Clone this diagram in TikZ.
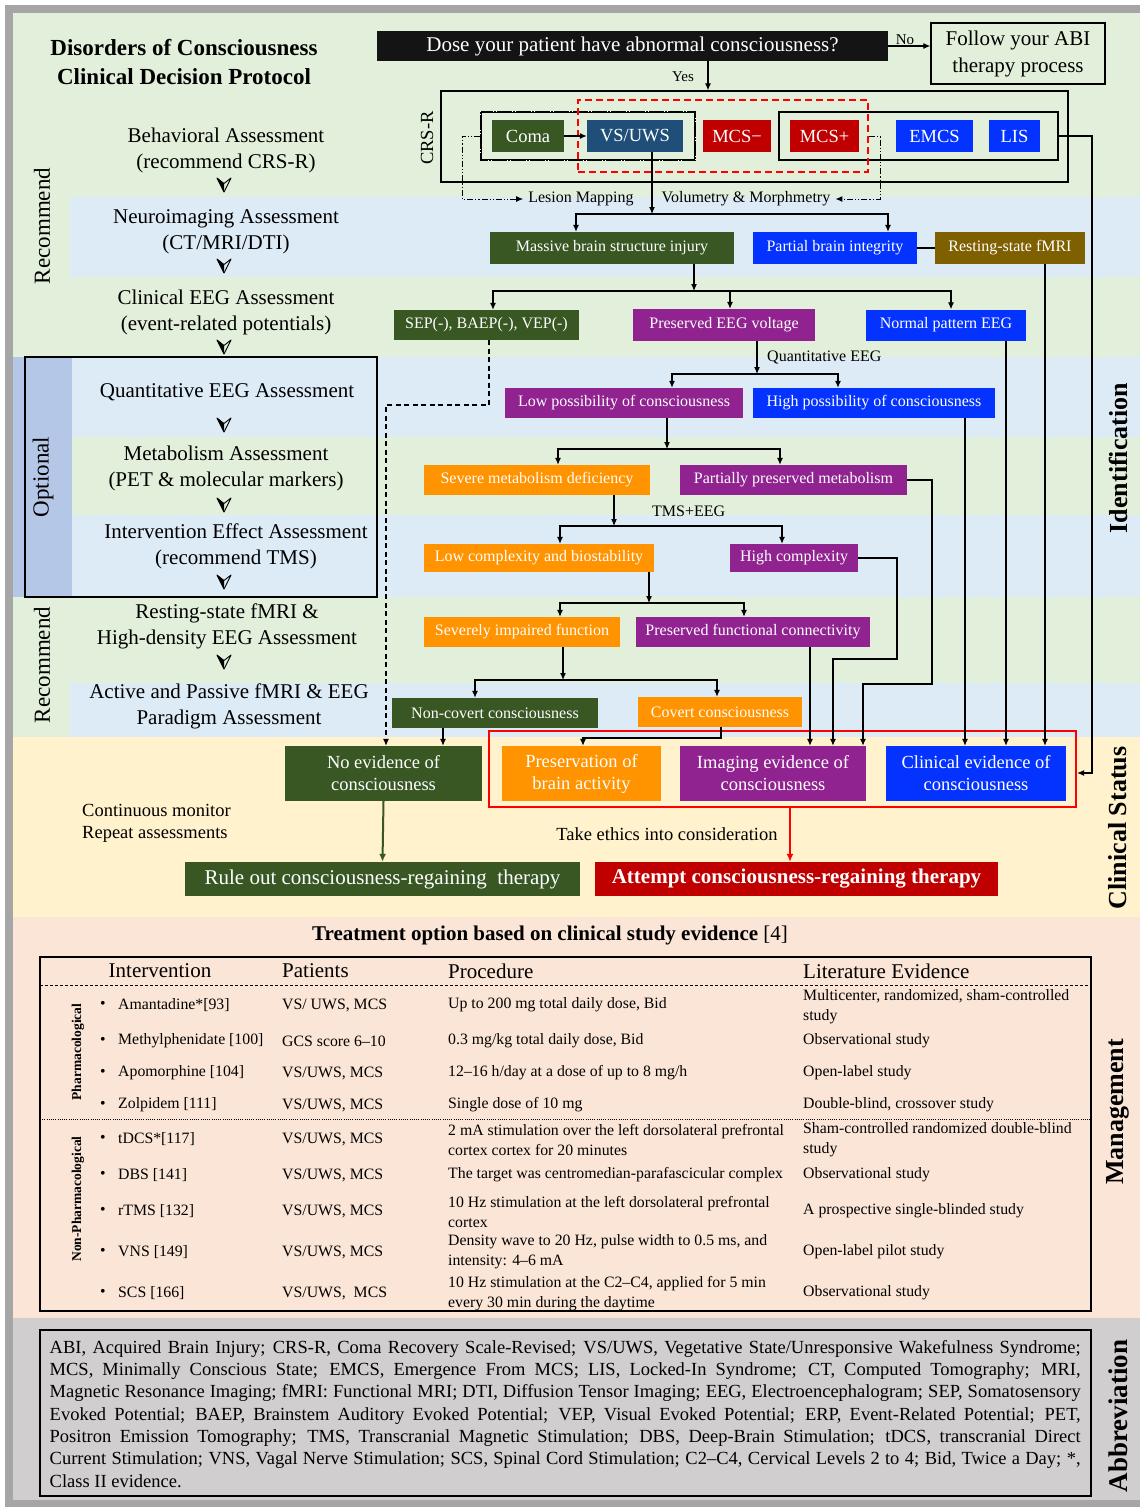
\documentclass[tikz,border=0pt]{standalone}
\usepackage{fontspec}
\setmainfont{Liberation Serif}
\usetikzlibrary{arrows.meta}
\definecolor{bgG}{HTML}{E2EFDA}
\definecolor{bgB}{HTML}{DDEBF7}
\definecolor{bgO}{HTML}{B4C7E7}
\definecolor{bgY}{HTML}{FFF2CC}
\definecolor{bgP}{HTML}{FBE5D6}
\definecolor{bgA}{HTML}{D0CECE}
\definecolor{frameG}{HTML}{A6A6A6}
\definecolor{cG}{HTML}{385723}
\definecolor{cNavy}{HTML}{1F4E79}
\definecolor{cR}{HTML}{C00000}
\definecolor{cB}{HTML}{0433FF}
\definecolor{cP}{HTML}{912391}
\definecolor{cO}{HTML}{FF9300}
\definecolor{cBr}{HTML}{7F6000}
\definecolor{cK}{HTML}{141414}
\begin{document}
\begin{tikzpicture}[x=1pt,y=-1pt,
  fs/.style 2 args={font=\fontsize{#1}{#2}\selectfont},
  box/.style={rectangle, inner sep=0pt, text=white, align=center},
  lbl/.style={inner sep=0pt, align=center},
  arr/.style={-{Latex[length=7pt,width=6pt]}, line width=1.1pt},
  ln/.style={line width=1.1pt},
  ddot/.style={line width=1pt, dash pattern=on 6pt off 2pt on 1.2pt off 2pt on 1.2pt off 2pt},
  side/.style={rotate=90, inner sep=0pt, font=\fontsize{26}{30}\selectfont\bfseries},
  sideL/.style={rotate=90, inner sep=0pt, font=\fontsize{23}{28}\selectfont},
  asm/.style={inner sep=0pt, align=center, font=\fontsize{21}{26}\selectfont},
  tx/.style={inner sep=0pt, anchor=west, align=left, font=\fontsize{15.8}{20}\selectfont},
  th/.style={inner sep=0pt, anchor=west, font=\fontsize{21}{25}\selectfont},
  vdown/.pic={\fill[black] (-7,-7) -- (0,7) -- (0,-1.5) -- cycle;
              \draw[line width=0.9pt, line join=round] (-7,-7) -- (0,7) -- (7,-7) -- (0,-1.5) -- cycle;}
]
\useasboundingbox (0,0) rectangle (1140,1507);
% ---------- backgrounds
\fill[white] (0,0) rectangle (1140,1507);
\fill[frameG] (5,5) rectangle (1140,1507);
\fill[bgG] (13,13) rectangle (1140,737);
\fill[bgB] (70,197) rectangle (1140,277);
\fill[bgB] (72,357) rectangle (1140,437);
\fill[bgB] (72,515) rectangle (1140,597);
\fill[bgB] (70,683) rectangle (1140,737);
\fill[bgO] (13,357) rectangle (72,597);
\fill[bgY] (13,737) rectangle (1140,917);
\fill[bgP] (13,917) rectangle (1140,1318);
\fill[bgA] (13,1318) rectangle (1140,1500);
\draw[line width=1.2pt] (25,357) rectangle (377,597);

% ---------- side labels
\node[sideL] (recA) at (42,226) {Recommend};
\node[sideL] (opt) at (43,477) {Optional};
\node[sideL] (recB) at (42,665) {Recommend};
\node[side] (sIdent) at (1118,458) {Identification};
\node[side] (sClin) at (1118,828) {Clinical Status};
\node[side] (sMan) at (1118,1112) {Management};
\node[side, font=\fontsize{27}{30}\selectfont\bfseries] (sAbb) at (1118,1416) {Abbreviation};

% ---------- title and left column
\node[lbl, font=\fontsize{23}{29}\selectfont\bfseries] (title) at (184,62) {Disorders of Consciousness\\Clinical Decision Protocol};
\node[asm] (a1) at (226,150) {Behavioral Assessment\\(recommend CRS-R)};
\node[asm] (a2) at (226,232) {Neuroimaging Assessment\\(CT/MRI/DTI)};
\node[asm] (a3) at (226,312) {Clinical EEG Assessment\\(event-related potentials)};
\node[asm] (a4) at (227,392) {Quantitative EEG Assessment};
\node[asm] (a5) at (226,468) {Metabolism Assessment\\(PET \& molecular markers)};
\node[asm] (a6) at (236,546) {Intervention Effect Assessment\\(recommend TMS)};
\node[asm] (a7) at (227,626) {Resting-state fMRI \&\\High-density EEG Assessment};
\node[asm] (a8) at (229,706) {Active and Passive fMRI \& EEG\\Paradigm Assessment};
\pic (v1) at (224,185) {vdown};
\pic (v2) at (224,266) {vdown};
\pic (v3) at (224,347) {vdown};
\pic (v4) at (224,425) {vdown};
\pic (v5) at (224,505) {vdown};
\pic (v6) at (224,582) {vdown};
\pic (v7) at (224,662) {vdown};

% ---------- top question
\node[box, fill=cK, minimum width=511, minimum height=30, fs={21}{25}] (q) at (632.5,46) {Dose your patient have abnormal consciousness?};
\node[lbl, draw, line width=1.2pt, minimum width=174, minimum height=61, fs={21}{27}] (follow) at (1018,53.5) {Follow your ABI\\therapy process};
\node[lbl, fs={15}{18}] (no) at (905,40) {No};
\node[lbl, fs={15}{18}] (yes) at (683,77) {Yes};

% ---------- CRS-R block
\node[draw, line width=1.3pt, inner sep=0pt, minimum width=627, minimum height=91] (crs) at (754.5,136.5) {};
\node[sideL, fs={18.5}{22}] (crslbl) at (427,138) {CRS-R};
\node[draw, line width=1.4pt, inner sep=0pt, minimum width=214, minimum height=48] (inner1) at (588,136) {};
\draw[white, line width=1.4pt, dash pattern=on 1pt off 2pt on 1pt off 15pt] (inner1.north west) rectangle (inner1.south east);
\node[draw, line width=1.3pt, inner sep=0pt, minimum width=279, minimum height=48] (inner2) at (918.5,136) {};
\node[box, fill=cG, minimum width=72, minimum height=32, fs={18.5}{22}] (coma) at (528,136) {Coma};
\node[box, fill=cNavy, minimum width=96, minimum height=32, fs={18.5}{22}] (vs) at (635,136) {VS/UWS};
\node[box, fill=cR, minimum width=68, minimum height=32, fs={18.5}{22}] (mcsm) at (737,136) {MCS−};
\node[box, fill=cR, minimum width=69, minimum height=32, fs={18.5}{22}] (mcsp) at (824.5,136) {MCS+};
\node[box, fill=cB, minimum width=77, minimum height=32, fs={18.5}{22}] (emcs) at (934.5,136) {EMCS};
\node[box, fill=cB, minimum width=51, minimum height=32, fs={18.5}{22}] (lis) at (1014.5,136) {LIS};
\node[draw=red, line width=2.5pt, dash pattern=on 7pt off 4pt, inner sep=0pt, minimum width=290, minimum height=72] (reddash) at (723,136) {};
\node[lbl, inner xsep=5pt, fs={16}{19}] (lesion) at (581,199) {Lesion Mapping};
\node[lbl, inner xsep=5pt, fs={16}{19}] (vol) at (746,199) {Volumetry \& Morphmetry};

% ---------- flow boxes
\node[box, fill=cG, minimum width=244, minimum height=32, fs={16}{19}] (massive) at (612,248) {Massive brain structure injury};
\node[box, fill=cB, minimum width=164, minimum height=32, fs={16}{19}] (partial) at (835,248) {Partial brain integrity};
\node[box, fill=cBr, minimum width=150, minimum height=32, fs={16}{19}] (resting) at (1010,248) {Resting-state fMRI};
\node[box, fill=cG, minimum width=185, minimum height=30, fs={16}{19}] (sep) at (486.5,325) {SEP(-), BAEP(-), VEP(-)};
\node[box, fill=cP, minimum width=182, minimum height=32, fs={16}{19}] (peeg) at (724,325) {Preserved EEG voltage};
\node[box, fill=cB, minimum width=160, minimum height=31, fs={16}{19}] (normal) at (946,325) {Normal pattern EEG};
\node[lbl, anchor=west, fs={16}{19}] (qeeg) at (767,357) {Quantitative EEG};
\node[box, fill=cP, minimum width=238, minimum height=30, fs={16}{19}] (low) at (624,403) {Low possibility of consciousness};
\node[box, fill=cB, minimum width=242, minimum height=30, fs={16}{19}] (high) at (874,403) {High possibility of consciousness};
\node[box, fill=cO, minimum width=226, minimum height=30, fs={16}{19}] (severe) at (537,480) {Severe metabolism deficiency};
\node[box, fill=cP, minimum width=227, minimum height=30, fs={16}{19}] (partmet) at (793.5,480) {Partially preserved metabolism};
\node[lbl, anchor=west, fs={16}{19}] (tmseeg) at (652,511) {TMS+EEG};
\node[box, fill=cO, minimum width=230, minimum height=28, fs={16}{19}] (lowcx) at (539,558) {Low complexity and biostability};
\node[box, fill=cP, minimum width=128, minimum height=28, fs={16}{19}] (highcx) at (794,558) {High complexity};
\node[box, fill=cO, minimum width=196, minimum height=30, fs={16}{19}] (sevimp) at (522,632) {Severely impaired function};
\node[box, fill=cP, minimum width=234, minimum height=30, fs={16}{19}] (pfc) at (753,632) {Preserved functional connectivity};
\node[box, fill=cG, minimum width=206, minimum height=30, fs={16}{19}] (noncov) at (495,713) {Non-covert consciousness};
\node[box, fill=cO, minimum width=164, minimum height=30, fs={16}{19}] (covert) at (720,712) {Covert consciousness};

% ---------- clinical status
\node[draw=red, line width=2.2pt, inner sep=0pt, minimum width=587, minimum height=76] (redfr) at (782.5,769) {};
\node[box, fill=cG, minimum width=197, minimum height=55, fs={18.5}{22}] (noev) at (383.5,773.5) {No evidence of\\consciousness};
\node[box, fill=cO, minimum width=159, minimum height=55, fs={18.5}{22}] (pres) at (581.5,773.5) {Preservation of\\brain activity};
\node[box, fill=cP, minimum width=186, minimum height=55, fs={18.5}{22}] (imgev) at (773,773.5) {Imaging evidence of\\consciousness};
\node[box, fill=cB, minimum width=180, minimum height=55, fs={18.5}{22}] (clinev) at (976,773.5) {Clinical evidence of\\consciousness};
\node[lbl, anchor=west, align=left, fs={18.5}{22}] (cont) at (82,823) {Continuous monitor\\Repeat assessments};
\node[lbl, fs={18.5}{22}] (ethics) at (667,834) {Take ethics into consideration};
\node[box, fill=cG, minimum width=395, minimum height=34, fs={21}{25}] (ruleout) at (382.5,879) {Rule out consciousness-regaining\ \ therapy};
\node[box, fill=cR, minimum width=403, minimum height=34, font=\fontsize{21}{25}\selectfont\bfseries] (attempt) at (796.5,879) {Attempt consciousness-regaining therapy};

% ---------- helper coordinates
\coordinate (k708) at (708,0);
\coordinate (jVS) at (652,214);
\coordinate (k576) at (576,0);
\coordinate (k888) at (888,0);
\coordinate (jM) at (694,291);
\coordinate (k493) at (493,0);
\coordinate (k730) at (730,0);
\coordinate (k951) at (951,0);
\coordinate (k489) at (489,0);
\coordinate (bS) at (386,405);
\coordinate (jP) at (757,374);
\coordinate (k672) at (672,0);
\coordinate (k838) at (838,0);
\coordinate (jL) at (667,449);
\coordinate (k558) at (558,0);
\coordinate (k780) at (780,0);
\coordinate (jS) at (614,526);
\coordinate (k560) at (560,0);
\coordinate (k782) at (782,0);
\coordinate (jC) at (649,603);
\coordinate (k744) at (744,0);
\coordinate (jF) at (563,680);
\coordinate (k475) at (475,0);
\coordinate (k717) at (717,0);
\coordinate (k443) at (443,0);
\coordinate (bC) at (721,738);
\coordinate (k583) at (583,0);
\coordinate (k810) at (810,0);
\coordinate (k833) at (833,0);
\coordinate (k863) at (863,0);
\coordinate (k965) at (965,0);
\coordinate (k1006) at (1006,0);
\coordinate (k1045) at (1045,0);
\coordinate (k790) at (790,0);
\coordinate (bL) at (1092,773);
\coordinate (bLe) at (462,0);
\coordinate (bV) at (880,0);

% ---------- connectors
\draw[arr] (q.east) -- (q.east -| follow.west);
\draw[arr] (q.south -| k708) -- (crs.north -| k708);
\draw[arr] (coma.east) -- (vs.west);
\draw[ddot, -{Latex[length=7pt,width=6pt]}] (inner1.west) -- (inner1.west -| bLe) |- (lesion.west);
\draw[ddot, -{Latex[length=7pt,width=6pt]}] (reddash.east) -- (reddash.east -| bV) |- (vol.east);
\draw[arr] (vs.south -| jVS) -- (jVS);
\draw[arr] (jVS) -| (massive.north -| k576);
\draw[arr] (jVS) -| (partial.north -| k888);
\draw[ln] (partial.east) -- (resting.west);
\draw[arr] (inner2.east) -| (bL) -- (redfr.east |- bL);
\draw[arr] (resting.south -| k1045) -- (clinev.north -| k1045);
\draw[arr] (massive.south -| jM) -- (jM);
\draw[arr] (jM) -| (sep.north -| k493);
\draw[arr] (jM) -| (peeg.north -| k730);
\draw[arr] (jM) -| (normal.north -| k951);
\draw[-{Latex[length=7pt,width=6pt]}, line width=1.1pt, dash pattern=on 5pt off 3.5pt] (sep.south -| k489) |- (bS) -- (noev.north -| bS);
\draw[arr] (normal.south -| k1006) -- (clinev.north -| k1006);
\draw[arr] (peeg.south -| jP) -- (jP);
\draw[arr] (jP) -| (low.north -| k672);
\draw[arr] (jP) -| (high.north -| k838);
\draw[arr] (high.south -| k965) -- (clinev.north -| k965);
\draw[arr] (low.south -| jL) -- (jL);
\draw[arr] (jL) -| (severe.north -| k558);
\draw[arr] (jL) -| (partmet.north -| k780);
\draw[arr] (partmet.east) -| (932,684) -| (imgev.north -| k863);
\draw[arr] (severe.south -| jS) -- (jS);
\draw[arr] (jS) -| (lowcx.north -| k560);
\draw[arr] (jS) -| (highcx.north -| k782);
\draw[arr] (highcx.east) -| (897,659) -| (imgev.north -| k833);
\draw[arr] (lowcx.south -| jC) -- (jC);
\draw[arr] (jC) -| (sevimp.north -| k560);
\draw[arr] (jC) -| (pfc.north -| k744);
\draw[arr] (pfc.south -| k810) -- (imgev.north -| k810);
\draw[arr] (sevimp.south -| jF) -- (jF);
\draw[arr] (jF) -| (noncov.north -| k475);
\draw[arr] (jF) -| (covert.north -| k717);
\draw[arr] (noncov.south -| k443) -- (noev.north -| k443);
\draw[arr] (covert.south -| bC) -- (bC) -| (pres.north -| k583);
\draw[-{Latex[length=8pt,width=7pt]}, draw=cG, fill=cG, line width=2pt] (noev.south) -- (ruleout.north);
\draw[-{Latex[length=8pt,width=7pt]}, draw=red, fill=red, line width=2pt] (redfr.south -| k790) -- (attempt.north -| k790);

% ---------- management table
\node[lbl, fs={21}{25}] (ttitle) at (550,935) {{\bfseries Treatment option based on clinical study evidence} [4]};
\draw[line width=1.3pt] (40,957) rectangle (1091,1311);
\draw[line width=0.9pt, dash pattern=on 3pt off 2pt] (40,985) -- (1091,985);
\draw[line width=0.9pt, dash pattern=on 1pt off 1.2pt] (40,1119) -- (1091,1119);
\node[th, anchor=center] (hI) at (160,971) {Intervention};
\node[th] (hP) at (282,971) {Patients};
\node[th] (hR) at (448,971) {Procedure};
\node[th] (hL) at (803,971) {Literature Evidence};
\node[rotate=90, inner sep=0pt, font=\fontsize{13.5}{16}\selectfont\bfseries] (ph) at (78,1052) {Pharmacological};
\node[rotate=90, inner sep=0pt, font=\fontsize{13.5}{16}\selectfont\bfseries] (nph) at (78,1199) {Non-Pharmacological};

\node[tx, anchor=center] (b1) at (103,1005) {\textbullet};
\node[tx] (i1) at (118,1005) {Amantadine*[93]};
\node[tx] (pa1) at (282,1005) {VS/ UWS, MCS};
\node[tx] (pr1) at (448,1005) {Up to 200 mg total daily dose, Bid};
\node[tx] (l1) at (803,1007) {Multicenter, randomized, sham-controlled\\study};

\node[tx, anchor=center] (b2) at (103,1041) {\textbullet};
\node[tx] (i2) at (118,1041) {Methylphenidate [100]};
\node[tx] (pa2) at (282,1041) {GCS score 6–10};
\node[tx] (pr2) at (448,1041) {0.3 mg/kg total daily dose, Bid};
\node[tx] (l2) at (803,1041) {Observational study};

\node[tx, anchor=center] (b3) at (103,1073) {\textbullet};
\node[tx] (i3) at (118,1073) {Apomorphine [104]};
\node[tx] (pa3) at (282,1073) {VS/UWS, MCS};
\node[tx] (pr3) at (448,1073) {12–16 h/day at a dose of up to 8 mg/h};
\node[tx] (l3) at (803,1073) {Open-label study};

\node[tx, anchor=center] (b4) at (103,1105) {\textbullet};
\node[tx] (i4) at (118,1105) {Zolpidem [111]};
\node[tx] (pa4) at (282,1105) {VS/UWS, MCS};
\node[tx] (pr4) at (448,1105) {Single dose of 10 mg};
\node[tx] (l4) at (803,1105) {Double-blind, crossover study};

\node[tx, anchor=center] (b5) at (103,1139) {\textbullet};
\node[tx] (i5) at (118,1139) {tDCS*[117]};
\node[tx] (pa5) at (282,1139) {VS/UWS, MCS};
\node[tx] (pr5) at (448,1140) {2 mA stimulation over the left dorsolateral prefrontal\\cortex cortex for 20 minutes};
\node[tx] (l5) at (803,1140) {Sham-controlled randomized double-blind\\study};

\node[tx, anchor=center] (b6) at (103,1175) {\textbullet};
\node[tx] (i6) at (118,1175) {DBS [141]};
\node[tx] (pa6) at (282,1175) {VS/UWS, MCS};
\node[tx] (pr6) at (448,1175) {The target was centromedian-parafascicular complex};
\node[tx] (l6) at (803,1175) {Observational study};

\node[tx, anchor=center] (b7) at (103,1211) {\textbullet};
\node[tx] (i7) at (118,1211) {rTMS [132]};
\node[tx] (pa7) at (282,1211) {VS/UWS, MCS};
\node[tx] (pr7) at (448,1212) {10 Hz stimulation at the left dorsolateral prefrontal\\cortex};
\node[tx] (l7) at (803,1211) {A prospective single-blinded study};

\node[tx, anchor=center] (b8) at (103,1252) {\textbullet};
\node[tx] (i8) at (118,1252) {VNS [149]};
\node[tx] (pa8) at (282,1252) {VS/UWS, MCS};
\node[tx] (pr8) at (448,1252) {Density wave to 20 Hz, pulse width to 0.5 ms, and\\intensity: 4–6 mA};
\node[tx] (l8) at (803,1252) {Open-label pilot study};

\node[tx, anchor=center] (b9) at (103,1293) {\textbullet};
\node[tx] (i9) at (118,1293) {SCS [166]};
\node[tx] (pa9) at (282,1293) {VS/UWS,\ \ MCS};
\node[tx] (pr9) at (448,1294) {10 Hz stimulation at the C2–C4, applied for 5 min\\every 30 min during the daytime};
\node[tx] (l9) at (803,1293) {Observational study};

% ---------- abbreviations
\draw[line width=1.1pt] (40,1330) rectangle (1091,1496);
\node[inner sep=0pt, anchor=north west, text width=1031pt, align=justify, font=\fontsize{18.5}{22.3}\selectfont] (abbr) at (49.5,1340) {\tolerance=9999 ABI, Acquired Brain Injury; CRS-R, Coma Recovery Scale-Revised; VS/UWS, Vegetative State/Unresponsive Wakefulness Syndrome;\linebreak
MCS, Minimally Conscious State; EMCS, Emergence From MCS; LIS, Locked-In Syndrome; CT, Computed Tomography; MRI,\linebreak
Magnetic Resonance Imaging; fMRI: Functional MRI; DTI, Diffusion Tensor Imaging; EEG, Electroencephalogram; SEP, Somatosensory\linebreak
Evoked Potential; BAEP, Brainstem Auditory Evoked Potential; VEP, Visual Evoked Potential; ERP, Event-Related Potential; PET,\linebreak
Positron Emission Tomography; TMS, Transcranial Magnetic Stimulation; DBS, Deep-Brain Stimulation; tDCS, transcranial Direct\linebreak
Current Stimulation; VNS, Vagal Nerve Stimulation; SCS, Spinal Cord Stimulation; C2–C4, Cervical Levels 2 to 4; Bid, Twice a Day; *,\linebreak
Class II evidence.};
\end{tikzpicture}
\end{document}
